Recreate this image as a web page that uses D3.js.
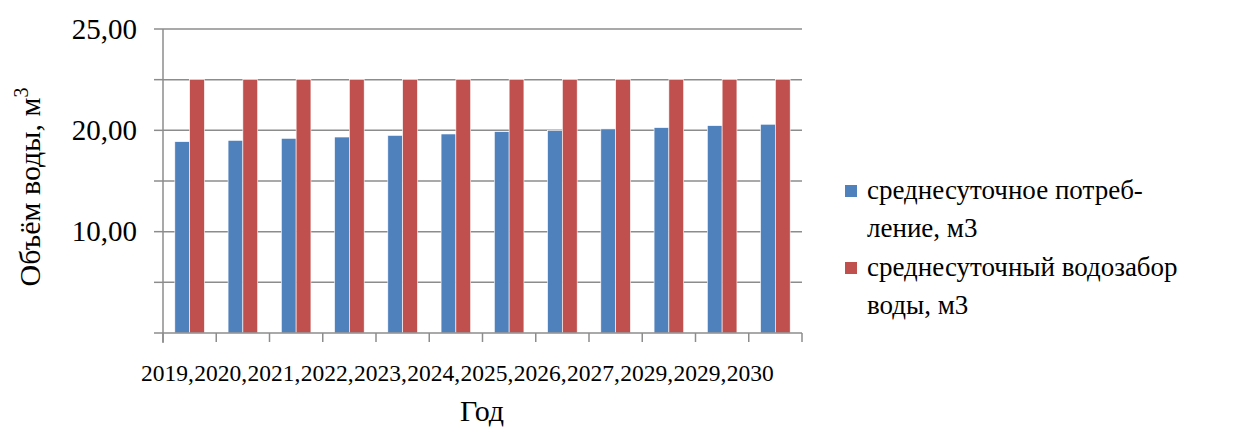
<!DOCTYPE html>
<html><head><meta charset="utf-8">
<script src="https://cdn.jsdelivr.net/npm/d3@7"></script>
<style>
body{margin:0;background:#fff}
#wrap{position:relative;width:1241px;height:432px}
#wrap svg{position:absolute;left:0;top:0}
.lbl{position:absolute;font-family:"Liberation Serif","Times New Roman",serif;color:#000;white-space:nowrap;line-height:1}
</style>
</head><body><div id="wrap"><svg id="c" width="1241" height="432"></svg></div>
<script>
const categories = ["2019","2020","2021","2022","2023","2024","2025","2026","2027","2029","2029","2030"];
const xTickLabels = ["2019,","2020,","2021,","2022,","2023,","2024,","2025,","2026,","2027,","2029,","2029,","2030"];
const consumption = [18.88,19.01,19.21,19.34,19.5,19.64,19.87,19.97,20.14,20.27,20.46,20.6];
const intake = [25,25,25,25,25,25,25,25,25,25,25,25];
const seriesNames = ["среднесуточное потреб-|ление, м3","среднесуточный водозабор|воды, м3"];
const colors = ["#4F81BD","#C0504D"];
const yTickValues = [10,20,30];
const yTickLabels = ["10,00","20,00","25,00"];
const gridValues = [0,5,10,15,20,25,30];

const svg = d3.select("#c");
const wrap = d3.select("#wrap");
const L=163,R=802,T=29,B=333;
const idx = categories.map((d,i)=>i);
const x = d3.scaleBand().domain(idx).range([L,R]);
const xs = d3.scaleBand().domain([0,1]).range([0,29.6]);
const y = d3.scaleLinear().domain([0,30]).range([B,T]);

// html label helper: x, baseline y, size, anchor
function label(txt, px, base, size, anchor){
  const d = wrap.append("div").attr("class","lbl").style("font-size",size+"px")
    .style("top",(base-0.8375*size)+"px");
  if(anchor==="end"){ d.style("right",(1241-px)+"px"); }
  else if(anchor==="middle"){ d.style("left",px+"px").style("transform","translateX(-50%)"); }
  else d.style("left",px+"px");
  return d.text(txt);
}

svg.append("g").selectAll("line").data(gridValues.filter(v=>v>0)).join("line")
  .attr("x1",L).attr("x2",R).attr("y1",d=>y(d)).attr("y2",d=>y(d))
  .attr("stroke","#8c8c8c").attr("stroke-width",1.5);
svg.append("g").selectAll("line").data(gridValues).join("line")
  .attr("x1",L-9).attr("x2",L).attr("y1",d=>y(d)).attr("y2",d=>y(d))
  .attr("stroke","#8c8c8c").attr("stroke-width",1.5);

const series=[consumption,intake];
const off = (x.bandwidth()-29.6)/2;
series.forEach((vals,s)=>{
  svg.append("g").selectAll("rect").data(vals).join("rect")
    .attr("x",(d,i)=>x(i)+off+xs(s)).attr("width",xs.bandwidth())
    .attr("y",d=>y(d)).attr("height",d=>B-y(d))
    .attr("fill",colors[s]).attr("stroke","#fff").attr("stroke-width",0.6);
});

svg.append("line").attr("x1",L).attr("x2",L).attr("y1",T).attr("y2",B+10).attr("stroke","#8c8c8c").attr("stroke-width",1.5);
svg.append("line").attr("x1",L).attr("x2",R).attr("y1",B).attr("y2",B).attr("stroke","#8c8c8c").attr("stroke-width",1.5);
svg.append("g").selectAll("line").data(idx.concat([categories.length])).join("line")
  .attr("x1",d=>d<categories.length?x(d):R).attr("x2",d=>d<categories.length?x(d):R)
  .attr("y1",B).attr("y2",B+9).attr("stroke","#8c8c8c").attr("stroke-width",1.5);

yTickValues.forEach((v,i)=>label(yTickLabels[i],137,y(v)+10,29,"end"));
idx.forEach(i=>label(xTickLabels[i],x(i)-22,382,23.5,"start"));
label("Год",482,421,30,"middle");

// rotated y title
const yt = wrap.append("div").attr("class","lbl").style("font-size","30px")
  .style("left","41px").style("top","187px")
  .style("transform","translate(-50%,-50%) rotate(-90deg) translateY(-0.5px)")
  .style("transform-origin","center");
yt.append("span").text("Объём воды,  м");
yt.append("sup").style("font-size","20px").style("vertical-align","top").style("position","relative").style("top","-4px").text("3");
yt.style("left",null).style("top",null);
yt.style("position","absolute").style("left","0px").style("top","0px");
{
  const node = yt.node(); const w=node.offsetWidth, h=node.offsetHeight;
  yt.style("transform",`translate(${30-w/2}px,${187-h/2}px) rotate(-90deg)`);
}

const ly=[200,277];
seriesNames.forEach((n,s)=>{
  svg.append("rect").attr("x",845).attr("y",ly[s]-15).attr("width",12).attr("height",12).attr("fill",colors[s]);
  n.split("|").forEach((line,k)=>label(line,867,ly[s]+k*38,27,"start"));
});
</script></body></html>
